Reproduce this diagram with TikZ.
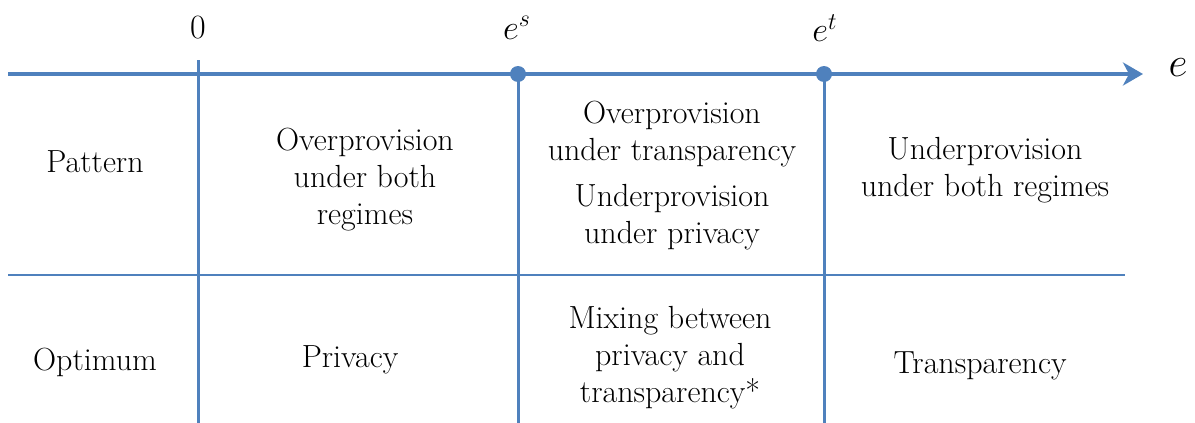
\documentclass[tikz,border=0pt]{standalone}
\usepackage{amsmath}
\usepackage{xcolor}
\usetikzlibrary{positioning, arrows.meta, calc}
\definecolor{axisblue}{HTML}{4F81BD}

\begin{document}
\begin{tikzpicture}[
    x=0.5pt, y=-0.5pt,
    axis/.style={draw=axisblue, line width=2pt},
    divider/.style={draw=axisblue, line width=1.5pt},
    rowline/.style={draw=axisblue, line width=1pt},
    dot/.style={circle, fill=axisblue, inner sep=0pt, minimum size=8pt},
    cell/.style={align=center, font=\fontsize{16}{18.5}\selectfont, inner sep=0pt},
    tick/.style={font=\fontsize{17}{20}\selectfont, inner sep=0pt}
]
    \useasboundingbox (0,0) rectangle (1195,423);

    % Axis
    \coordinate (start) at (8,74);
    \coordinate (tip) at (1143,74);
    \node[dot] (es) at (518,74) {};
    \node[dot] (et) at (824,74) {};
    \draw[axis, -{Stealth[length=10pt, width=11.5pt, inset=3pt]}] (start) -- (tip);
    \node[tick] (zero) at (198,28) {0};
    \node[tick] (eslab) at (517,28) {$e^{s}$};
    \node[tick] (etlab) at (825,28) {$e^{t}$};
    \node[tick, font=\fontsize{20}{22}\selectfont] (elab) at (1178,68) {$e$};

    % Grid
    \coordinate (z0) at (198,60);
    \coordinate (z1) at (198,423);
    \coordinate (s1) at (518,423);
    \coordinate (t1) at (824,423);
    \coordinate (r0) at (8,275);
    \coordinate (r1) at (1125,275);
    \draw[divider] (z0) -- (z1);
    \draw[divider] (es.center) -- (s1);
    \draw[divider] (et.center) -- (t1);
    \draw[rowline] (r0) -- (r1);

    % Pattern row
    \node[cell] (pattern) at (95,162) {Pattern};
    \node[cell] (pat1) at (365,180) {Overprovision\\under both\\regimes};
    \node[cell] (pat2a) at (672,134) {Overprovision\\under transparency};
    \node[cell] (pat2b) at (672,217) {Underprovision\\under privacy};
    \node[cell] (pat3) at (985,170) {Underprovision\\under both regimes};

    % Optimum row
    \node[cell] (optimum) at (95,362) {Optimum};
    \node[cell] (opt1) at (350,360) {Privacy};
    \node[cell] (opt2) at (670,358) {Mixing between\\privacy and\\transparency*};
    \node[cell] (opt3) at (980,366) {Transparency};
\end{tikzpicture}
\end{document}
